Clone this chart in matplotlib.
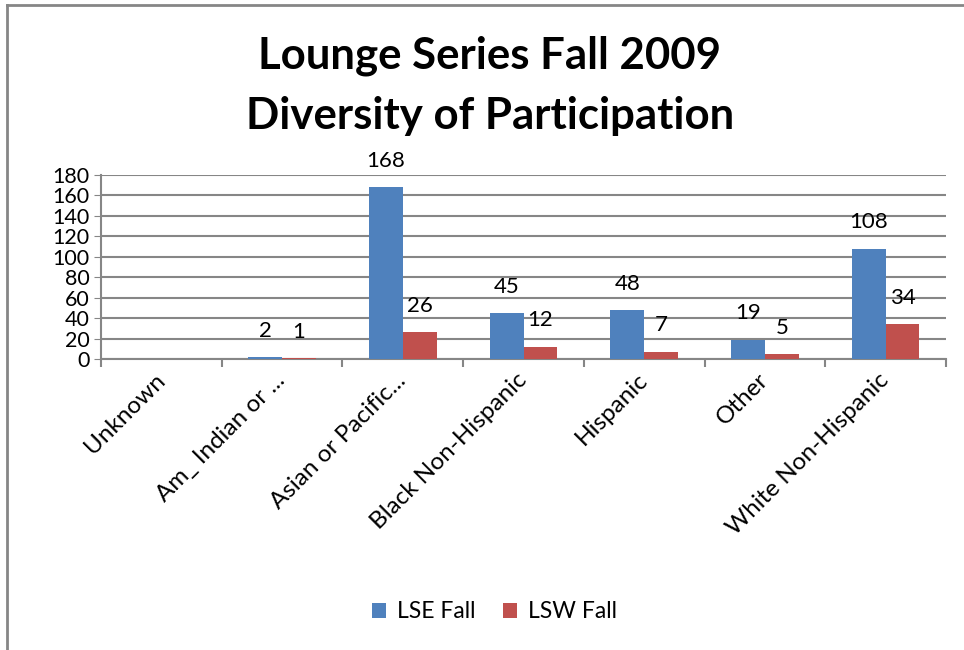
import matplotlib.pyplot as plt
import numpy as np
from matplotlib.lines import Line2D

plt.rcParams['font.family'] = ['Lato', 'DejaVu Sans']

categories = ["Unknown", "Am_ Indian or ...", "Asian or Pacific...", "Black Non-Hispanic",
              "Hispanic", "Other", "White Non-Hispanic"]
lse_fall = [0, 2, 168, 45, 48, 19, 108]
lsw_fall = [0, 1, 26, 12, 7, 5, 34]
series_names = ["LSE Fall", "LSW Fall"]
yticks = list(range(0, 181, 20))

blue = "#4F81BD"
red = "#C0504D"
grid = "#868686"

fig = plt.figure(figsize=(9.64, 6.5), dpi=100)
ax = fig.add_axes([101 / 964, 1 - 359 / 650, 845 / 964, 184 / 650])

x = np.arange(len(categories))
w = 0.28
b1 = ax.bar(x - w / 2, lse_fall, w, color=blue, label=series_names[0], zorder=3)
b2 = ax.bar(x + w / 2, lsw_fall, w, color=red, label=series_names[1], zorder=3)

# data labels, skip the empty category
for bars, vals in [(b1, lse_fall), (b2, lsw_fall)]:
    for r, v in zip(bars, vals):
        if v == 0:
            continue
        ax.annotate(str(v), (r.get_x() + r.get_width() / 2, v), xytext=(0, 19),
                    textcoords="offset points", ha="center", va="center", fontsize=16)

ax.set_xlim(-0.5, len(categories) - 0.5)
ax.set_ylim(0, 180)
ax.set_yticks(yticks)
ax.tick_params(axis="y", labelsize=15.5, length=5, color=grid, pad=3)
ax.yaxis.grid(True, color=grid, linewidth=1.5, zorder=0)

ax.set_xticks(x)
ax.set_xticklabels(categories, rotation=45, ha="right", va="center",
                   rotation_mode="anchor", fontsize=17.5)
ax.tick_params(axis="x", length=0, pad=13)
ax.set_xticks(np.arange(-0.5, len(categories), 1), minor=True)
ax.tick_params(axis="x", which="minor", length=6, color=grid, width=1.5)

for s in ["top", "right"]:
    ax.spines[s].set_visible(False)
for s in ["left", "bottom"]:
    ax.spines[s].set_color(grid)
    ax.spines[s].set_linewidth(1.5)

fig.text(0.508, 1 - 56 / 650, "Lounge Series Fall 2009", ha="center", va="center",
         fontsize=31.5, fontweight="bold")
fig.text(0.508, 1 - 116 / 650, "Diversity of Participation", ha="center", va="center",
         fontsize=31.5, fontweight="bold")

fig.legend(handles=[b1, b2], loc="center", bbox_to_anchor=(0.513, 1 - 612 / 650),
           ncol=2, frameon=False, fontsize=16.5, handlelength=0.6, handleheight=0.6,
           columnspacing=1.2, handletextpad=0.5)

# outer frame (top and left edges visible)
fig.add_artist(Line2D([7 / 964, 7 / 964], [0, 1 - 5 / 650], transform=fig.transFigure,
                      color=grid, linewidth=2))
fig.add_artist(Line2D([7 / 964, 1], [1 - 5 / 650, 1 - 5 / 650], transform=fig.transFigure,
                      color=grid, linewidth=2))

fig.savefig("out.png", dpi=100)
